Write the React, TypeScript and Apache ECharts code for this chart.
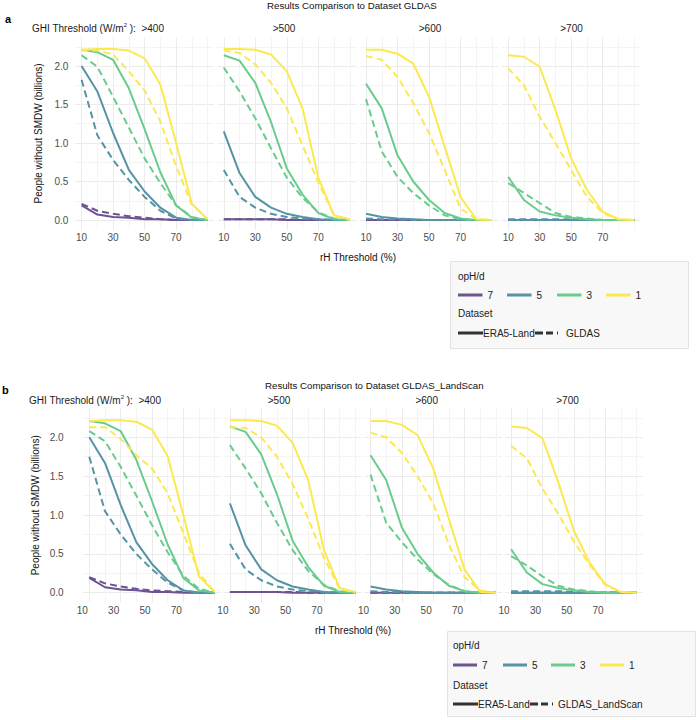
import { useEffect, useRef } from 'react';
import * as echarts from 'echarts';

// ---------- data ----------
const RH = [10, 20, 30, 40, 50, 60, 70, 80, 90];
const X_TICKS = [10, 30, 50, 70];
const X_MINOR = [20, 40, 60, 80, 90];
const Y_TICKS = [0, 0.5, 1, 1.5, 2];
const GHI = ['>400', '>500', '>600', '>700'];
const OPH = ['7', '5', '3', '1'];

// ERA5-Land (solid), order of opH/d: 7, 5, 3, 1
const ERA5_400_7 = [0.19, 0.07, 0.04, 0.03, 0.01, 0.01, 0.0, 0.0, 0.0];
const ERA5_400_5 = [2.0, 1.67, 1.13, 0.65, 0.37, 0.16, 0.03, 0.0, 0.0];
const ERA5_400_3 = [2.21, 2.18, 2.08, 1.71, 1.18, 0.62, 0.19, 0.03, 0.0];
const ERA5_400_1 = [2.21, 2.22, 2.22, 2.2, 2.1, 1.76, 1.0, 0.21, 0.01];

const ERA5_500_7 = [0.01, 0.01, 0.01, 0.01, 0.0, 0.0, 0.0, 0.0, 0.0];
const ERA5_500_5 = [1.15, 0.61, 0.3, 0.16, 0.08, 0.04, 0.01, 0.0, 0.0];
const ERA5_500_3 = [2.14, 2.07, 1.78, 1.27, 0.67, 0.33, 0.09, 0.01, 0.0];
const ERA5_500_1 = [2.22, 2.22, 2.21, 2.15, 1.93, 1.45, 0.55, 0.06, 0.01];

const ERA5_600_7 = [0.0, 0.0, 0.0, 0.0, 0.0, 0.0, 0.0, 0.0, 0.0];
const ERA5_600_5 = [0.08, 0.04, 0.02, 0.01, 0.0, 0.0, 0.0, 0.0, 0.0];
const ERA5_600_3 = [1.77, 1.45, 0.84, 0.5, 0.26, 0.09, 0.02, 0.0, 0.0];
const ERA5_600_1 = [2.21, 2.21, 2.16, 2.03, 1.6, 0.95, 0.3, 0.01, 0.0];

const ERA5_700_7 = [0.0, 0.0, 0.0, 0.0, 0.0, 0.0, 0.0, 0.0, 0.0];
const ERA5_700_5 = [0.0, 0.0, 0.0, 0.0, 0.0, 0.0, 0.0, 0.0, 0.0];
const ERA5_700_3 = [0.56, 0.26, 0.11, 0.06, 0.03, 0.01, 0.0, 0.0, 0.0];
const ERA5_700_1 = [2.14, 2.12, 1.99, 1.43, 0.8, 0.39, 0.11, 0.01, 0.0];

// GLDAS (dashed, panel a)
const GLDAS_400_7 = [0.21, 0.12, 0.08, 0.05, 0.03, 0.01, 0.0, 0.0, 0.0];
const GLDAS_400_5 = [1.82, 1.1, 0.78, 0.52, 0.3, 0.12, 0.02, 0.0, 0.0];
const GLDAS_400_3 = [2.14, 1.99, 1.6, 1.2, 0.8, 0.48, 0.19, 0.04, 0.0];
const GLDAS_400_1 = [2.2, 2.2, 2.15, 1.93, 1.68, 1.28, 0.7, 0.2, 0.01];

const GLDAS_500_7 = [0.01, 0.01, 0.01, 0.01, 0.01, 0.0, 0.0, 0.0, 0.0];
const GLDAS_500_5 = [0.65, 0.3, 0.16, 0.08, 0.04, 0.02, 0.01, 0.0, 0.0];
const GLDAS_500_3 = [1.98, 1.67, 1.32, 0.93, 0.55, 0.29, 0.1, 0.02, 0.0];
const GLDAS_500_1 = [2.2, 2.17, 2.02, 1.78, 1.45, 0.97, 0.49, 0.06, 0.0];

const GLDAS_600_7 = [0.0, 0.0, 0.0, 0.0, 0.0, 0.0, 0.0, 0.0, 0.0];
const GLDAS_600_5 = [0.02, 0.01, 0.01, 0.0, 0.0, 0.0, 0.0, 0.0, 0.0];
const GLDAS_600_3 = [1.57, 0.89, 0.56, 0.35, 0.19, 0.06, 0.01, 0.0, 0.0];
const GLDAS_600_1 = [2.13, 2.08, 1.86, 1.52, 1.13, 0.65, 0.15, 0.01, 0.0];

const GLDAS_700_7 = [0.0, 0.0, 0.0, 0.0, 0.0, 0.0, 0.0, 0.0, 0.0];
const GLDAS_700_5 = [0.01, 0.01, 0.01, 0.01, 0.01, 0.0, 0.0, 0.0, 0.0];
const GLDAS_700_3 = [0.48, 0.35, 0.22, 0.09, 0.04, 0.02, 0.0, 0.0, 0.0];
const GLDAS_700_1 = [1.97, 1.75, 1.34, 1.0, 0.65, 0.3, 0.09, 0.01, 0.0];

// GLDAS_LandScan (dashed, panel b)
const GLS_400_7 = [0.2, 0.12, 0.08, 0.05, 0.03, 0.02, 0.01, 0.0, 0.0];
const GLS_400_5 = [1.75, 1.05, 0.75, 0.5, 0.3, 0.13, 0.03, 0.0, 0.0];
const GLS_400_3 = [2.08, 1.95, 1.62, 1.25, 0.87, 0.52, 0.22, 0.05, 0.0];
const GLS_400_1 = [2.13, 2.13, 1.98, 1.77, 1.6, 1.28, 0.77, 0.25, 0.01];

const GLS_500_7 = [0.01, 0.01, 0.01, 0.01, 0.01, 0.0, 0.0, 0.0, 0.0];
const GLS_500_5 = [0.63, 0.3, 0.16, 0.08, 0.04, 0.02, 0.01, 0.0, 0.0];
const GLS_500_3 = [1.9, 1.6, 1.28, 0.9, 0.55, 0.28, 0.1, 0.02, 0.0];
const GLS_500_1 = [2.13, 2.12, 2.0, 1.75, 1.4, 0.95, 0.45, 0.05, 0.0];

const GLS_600_7 = [0.0, 0.0, 0.0, 0.0, 0.0, 0.0, 0.0, 0.0, 0.0];
const GLS_600_5 = [0.02, 0.01, 0.01, 0.0, 0.0, 0.0, 0.0, 0.0, 0.0];
const GLS_600_3 = [1.52, 0.9, 0.65, 0.43, 0.24, 0.1, 0.02, 0.0, 0.0];
const GLS_600_1 = [2.06, 2.0, 1.8, 1.5, 1.15, 0.62, 0.2, 0.03, 0.0];

const GLS_700_7 = [0.0, 0.0, 0.0, 0.0, 0.0, 0.0, 0.0, 0.0, 0.0];
const GLS_700_5 = [0.02, 0.02, 0.02, 0.02, 0.01, 0.0, 0.0, 0.0, 0.0];
const GLS_700_3 = [0.47, 0.35, 0.21, 0.09, 0.04, 0.02, 0.0, 0.0, 0.0];
const GLS_700_1 = [1.89, 1.73, 1.34, 1.02, 0.66, 0.36, 0.1, 0.01, 0.0];

const ERA5 = [
  [ERA5_400_7, ERA5_400_5, ERA5_400_3, ERA5_400_1],
  [ERA5_500_7, ERA5_500_5, ERA5_500_3, ERA5_500_1],
  [ERA5_600_7, ERA5_600_5, ERA5_600_3, ERA5_600_1],
  [ERA5_700_7, ERA5_700_5, ERA5_700_3, ERA5_700_1],
];
const GLDAS = [
  [GLDAS_400_7, GLDAS_400_5, GLDAS_400_3, GLDAS_400_1],
  [GLDAS_500_7, GLDAS_500_5, GLDAS_500_3, GLDAS_500_1],
  [GLDAS_600_7, GLDAS_600_5, GLDAS_600_3, GLDAS_600_1],
  [GLDAS_700_7, GLDAS_700_5, GLDAS_700_3, GLDAS_700_1],
];
const GLDAS_LS = [
  [GLS_400_7, GLS_400_5, GLS_400_3, GLS_400_1],
  [GLS_500_7, GLS_500_5, GLS_500_3, GLS_500_1],
  [GLS_600_7, GLS_600_5, GLS_600_3, GLS_600_1],
  [GLS_700_7, GLS_700_5, GLS_700_3, GLS_700_1],
];

// ---------- styles / layout ----------
const COLORS = ['#6d5393', '#5593a5', '#69cc8d', '#fbe94f'];
const FONT = '"Liberation Sans", Arial, Helvetica, sans-serif';
const GRID_MAJOR = '#ebebeb';
const GRID_MINOR = '#f4f4f4';
const NONE = 'rgba(0,0,0,0)';
const X_MIN = 6, X_MAX = 94, X_STEP = 2;
const Y_MIN = -0.125, Y_MAX = 2.375, Y_STEP = 0.125;

const PANELS = [
  {
    letter: 'a', title: 'Results Comparison to Dataset GLDAS', name: 'GLDAS', dashed: GLDAS,
    x10: 81.6, step: 142.2, scale: 1.575, y0: 220, yUnit: 77,
    xLabelShift: 0, yLabelMargin: 7,
    titleX: 267, titleY: 5, letterX: 5, letterY: 19,
    stripY: 28.3, ghiX: 32, stripX: [0, 284, 430, 571.5],
    yTitleX: 38, xTitleX: 358, xTitleY: 257,
    lg: { x: 450, y: 261, w: 238, h: 87, tx: 458, opY: 276, keyY: 295, dsY: 313, lineY: 333,
      keys: [458, 507, 557, 606], keyLen: 24.5, era5End: 483, dashX: 535, nameX: 566 },
  },
  {
    letter: 'b', title: 'Results Comparison to Dataset GLDAS_LandScan', name: 'GLDAS_LandScan', dashed: GLDAS_LS,
    x10: 89.3, step: 140.6, scale: 1.567, y0: 592.7, yUnit: 77.7,
    xLabelShift: 7, yLabelMargin: 19.5,
    titleX: 265, titleY: 385, letterX: 2, letterY: 390,
    stripY: 400, ghiX: 29, stripX: [0, 279, 426.7, 567.5],
    yTitleX: 35, xTitleX: 353, xTitleY: 630,
    lg: { x: 447, y: 631, w: 248, h: 85, tx: 453, opY: 645, keyY: 665, dsY: 685, lineY: 704,
      keys: [453, 503, 551, 600], keyLen: 24, era5End: 478, dashX: 530, nameX: 558 },
  },
];

function buildOption() {
  const grids: any[] = [];
  const xAxes: any[] = [];
  const yAxes: any[] = [];
  const series: any[] = [];
  const graphics: any[] = [];

  const xColors: string[] = [];
  for (let v = X_MIN; v <= X_MAX + 1e-9; v += X_STEP) {
    xColors.push(X_TICKS.includes(v) ? GRID_MAJOR : X_MINOR.includes(v) ? GRID_MINOR : NONE);
  }
  const yColors = [NONE, GRID_MAJOR, NONE, GRID_MINOR];

  PANELS.forEach((P, p) => {
    for (let f = 0; f < 4; f++) {
      const idx = p * 4 + f;
      grids.push({
        left: P.x10 + P.step * f - (X_TICKS[0] - X_MIN) * P.scale,
        top: P.y0 - Y_MAX * P.yUnit,
        width: (X_MAX - X_MIN) * P.scale,
        height: (Y_MAX - Y_MIN) * P.yUnit,
        containLabel: false,
        outerBoundsMode: 'none',
      });
      xAxes.push({
        type: 'value', gridIndex: idx, min: X_MIN, max: X_MAX, interval: X_STEP,
        axisLine: { show: false }, axisTick: { show: false },
        axisLabel: {
          formatter: (v: number) => (X_TICKS.includes(Math.round(v)) && Math.abs(v - Math.round(v)) < 1e-6 ? String(Math.round(v)) : ''),
          fontSize: 10, fontFamily: FONT, color: '#4d4d4d', margin: 3,
          padding: [0, P.xLabelShift * 2, 0, 0],
          showMinLabel: false, showMaxLabel: false,
        },
        splitLine: { show: true, lineStyle: { color: xColors, width: 1 } },
      });
      yAxes.push({
        type: 'value', gridIndex: idx, min: Y_MIN, max: Y_MAX, interval: Y_STEP,
        axisLine: { show: false }, axisTick: { show: false },
        axisLabel: {
          show: f === 0,
          formatter: (v: number) => {
            const hit = Y_TICKS.find((t) => Math.abs(t - v) < 1e-6);
            return hit === undefined ? '' : hit.toFixed(1);
          },
          fontSize: 10, fontFamily: FONT, color: '#4d4d4d', margin: P.yLabelMargin,
          showMinLabel: false, showMaxLabel: false,
        },
        splitLine: { show: true, lineStyle: { color: yColors, width: 1 } },
      });
      for (let o = 0; o < 4; o++) {
        for (let d = 0; d < 2; d++) {
          const vals = d === 0 ? ERA5[f][o] : P.dashed[f][o];
          series.push({
            type: 'line', name: `${GHI[f]} ${OPH[o]} ${d === 0 ? 'ERA5-Land' : P.name}`,
            xAxisIndex: idx, yAxisIndex: idx,
            data: RH.map((x, i) => [x, vals[i]]),
            symbol: 'none', silent: true,
            lineStyle: { color: COLORS[o], width: 2, type: d === 0 ? 'solid' : [7, 4], cap: 'butt', join: 'round' },
          });
        }
      }
    }

    // texts
    graphics.push({ type: 'text', x: P.titleX, y: P.titleY, silent: true,
      style: { text: P.title, fontSize: 9.7, fontFamily: FONT, fill: '#111', align: 'left', verticalAlign: 'middle' } });
    graphics.push({ type: 'text', x: P.letterX, y: P.letterY, silent: true,
      style: { text: P.letter, fontSize: 11, fontWeight: 'bold', fontFamily: FONT, fill: '#000', align: 'left', verticalAlign: 'middle' } });
    graphics.push({ type: 'text', x: P.ghiX, y: P.stripY, silent: true,
      style: {
        text: '{a|GHI Threshold (W/m}{s|2}{a| ):  ' + GHI[0] + '}',
        align: 'left', verticalAlign: 'middle',
        rich: {
          a: { fontSize: 10, fontFamily: FONT, fill: '#1a1a1a', lineHeight: 12 },
          s: { fontSize: 6, fontFamily: FONT, fill: '#1a1a1a', verticalAlign: 'top', lineHeight: 8 },
        },
      } });
    for (let f = 1; f < 4; f++) {
      graphics.push({ type: 'text', x: P.stripX[f], y: P.stripY, silent: true,
        style: { text: GHI[f], fontSize: 10, fontFamily: FONT, fill: '#1a1a1a', align: 'center', verticalAlign: 'middle' } });
    }
    const gTop = P.y0 - Y_MAX * P.yUnit;
    const gBot = P.y0 - Y_MIN * P.yUnit;
    graphics.push({ type: 'text', x: P.yTitleX, y: (gTop + gBot) / 2, rotation: Math.PI / 2, silent: true,
      style: { text: 'People without SMDW (billions)', fontSize: 10, fontFamily: FONT, fill: '#111', align: 'center', verticalAlign: 'middle' } });
    graphics.push({ type: 'text', x: P.xTitleX, y: P.xTitleY, silent: true,
      style: { text: 'rH Threshold (%)', fontSize: 10, fontFamily: FONT, fill: '#111', align: 'center', verticalAlign: 'middle' } });

    // legend
    const L = P.lg;
    graphics.push({ type: 'rect', shape: { x: L.x + 0.5, y: L.y + 0.5, width: L.w, height: L.h }, silent: true,
      style: { fill: '#f8f8f8', stroke: '#e2e2e2', lineWidth: 1 } });
    graphics.push({ type: 'text', x: L.tx, y: L.opY, silent: true,
      style: { text: 'opH/d', fontSize: 10, fontFamily: FONT, fill: '#222', align: 'left', verticalAlign: 'middle' } });
    OPH.forEach((lab, o) => {
      const kx = L.keys[o];
      graphics.push({ type: 'line', shape: { x1: kx, y1: L.keyY, x2: kx + L.keyLen, y2: L.keyY }, silent: true,
        style: { stroke: COLORS[o], lineWidth: 3 } });
      graphics.push({ type: 'text', x: kx + L.keyLen + 5, y: L.keyY, silent: true,
        style: { text: lab, fontSize: 10, fontFamily: FONT, fill: '#222', align: 'left', verticalAlign: 'middle' } });
    });
    graphics.push({ type: 'text', x: L.tx, y: L.dsY, silent: true,
      style: { text: 'Dataset', fontSize: 10, fontFamily: FONT, fill: '#222', align: 'left', verticalAlign: 'middle' } });
    graphics.push({ type: 'line', shape: { x1: L.tx, y1: L.lineY, x2: L.era5End, y2: L.lineY }, silent: true,
      style: { stroke: '#333', lineWidth: 3 } });
    graphics.push({ type: 'text', x: L.era5End, y: L.lineY, silent: true,
      style: { text: 'ERA5-Land', fontSize: 10, fontFamily: FONT, fill: '#222', align: 'left', verticalAlign: 'middle' } });
    graphics.push({ type: 'line', shape: { x1: L.dashX, y1: L.lineY, x2: L.dashX + 23, y2: L.lineY }, silent: true,
      style: { stroke: '#333', lineWidth: 3, lineDash: [8, 3, 7, 4, 1.5, 20] } });
    graphics.push({ type: 'text', x: L.nameX, y: L.lineY, silent: true,
      style: { text: P.name, fontSize: 10, fontFamily: FONT, fill: '#222', align: 'left', verticalAlign: 'middle' } });
  });

  return {
    animation: false,
    backgroundColor: '#ffffff',
    textStyle: { fontFamily: FONT },
    grid: grids,
    xAxis: xAxes,
    yAxis: yAxes,
    series,
    graphic: { elements: graphics },
  };
}

export default function App() {
  const ref = useRef<HTMLDivElement | null>(null);
  useEffect(() => {
    if (!ref.current) return;
    const chart = echarts.init(ref.current, null, { renderer: 'svg' });
    chart.setOption(buildOption() as any);
    return () => chart.dispose();
  }, []);
  return (
    <div
      ref={ref}
      style={{ position: 'fixed', left: 0, top: 0, width: 697, height: 720, background: '#fff' }}
    />
  );
}
